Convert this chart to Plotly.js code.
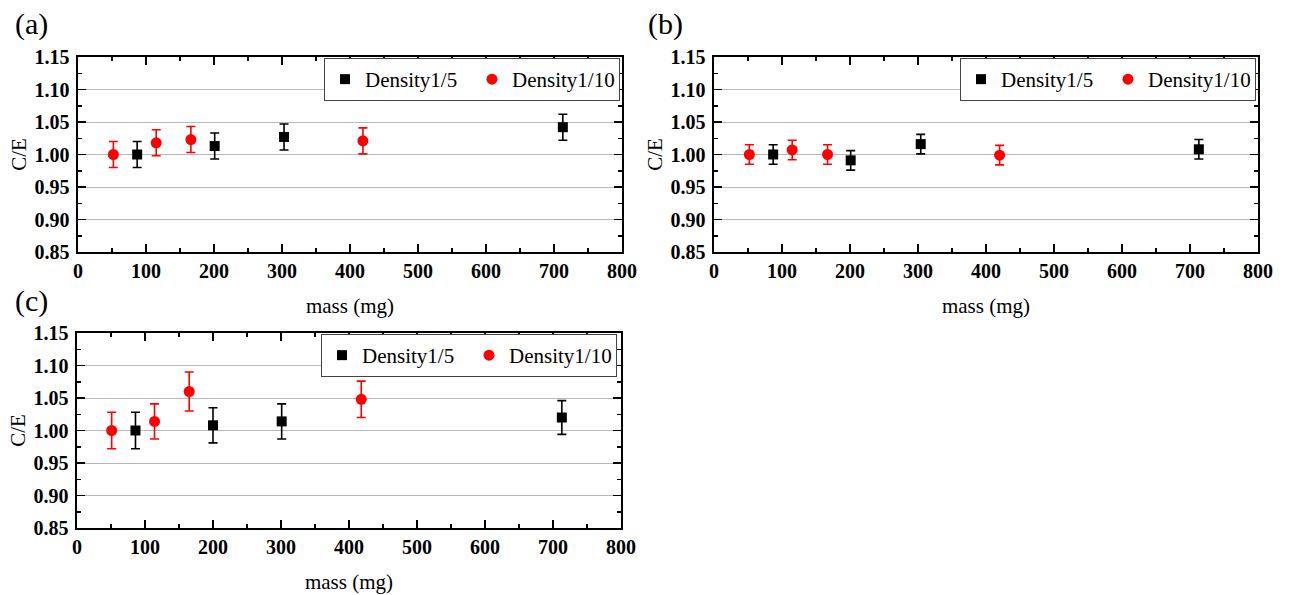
<!DOCTYPE html>
<html>
<head>
<meta charset="utf-8">
<script src="https://cdn.plot.ly/plotly-3.0.1.min.js"></script>
<style>html,body{margin:0;padding:0;background:#fff;}#chart{width:1289px;height:595px;}</style>
</head>
<body>
<div id="chart"></div>
<script>
// ---- Data ----
const seriesNames = ["Density1/5", "Density1/10"];
const panelLabels = ["(a)", "(b)", "(c)"];
const xTitle = "mass (mg)";
const yTitle = "C/E";

// Panel (a)
const a_mass5  = [87, 201, 303, 713];
const a_ce5    = [1.000, 1.013, 1.027, 1.042];
const a_err5   = [0.020, 0.020, 0.020, 0.020];
const a_mass10 = [52, 115, 166, 419];
const a_ce10   = [1.000, 1.018, 1.023, 1.021];
const a_err10  = [0.020, 0.020, 0.020, 0.020];

// Panel (b)
const b_mass5  = [87, 201, 304, 713];
const b_ce5    = [1.000, 0.991, 1.016, 1.008];
const b_err5   = [0.015, 0.015, 0.015, 0.015];
const b_mass10 = [52, 115, 167, 420];
const b_ce10   = [1.000, 1.007, 1.000, 0.999];
const b_err10  = [0.015, 0.015, 0.015, 0.015];

// Panel (c)
const c_mass5  = [86, 200, 301, 713];
const c_ce5    = [1.000, 1.008, 1.014, 1.020];
const c_err5   = [0.028, 0.027, 0.027, 0.026];
const c_mass10 = [51, 114, 165, 418];
const c_ce10   = [1.000, 1.014, 1.060, 1.048];
const c_err10  = [0.028, 0.027, 0.030, 0.028];

// ---- Styling ----
const W = 1289, H = 595;
const serif = "Liberation Serif";
const BLACK = "#000000", RED = "#ff0000";

function mkTraces(m5, c5, e5, m10, c10, e10, xa, ya, lg) {
  return [
    {x: m5, y: c5, type: "scatter", mode: "markers", name: seriesNames[0],
     xaxis: xa, yaxis: ya, legend: lg,
     marker: {symbol: "square", size: 10, color: BLACK},
     error_y: {type: "data", array: e5, visible: true, color: BLACK, thickness: 1.6, width: 4.5}},
    {x: m10, y: c10, type: "scatter", mode: "markers", name: seriesNames[1],
     xaxis: xa, yaxis: ya, legend: lg,
     marker: {symbol: "circle", size: 11, color: RED},
     error_y: {type: "data", array: e10, visible: true, color: RED, thickness: 1.6, width: 4.5}}
  ];
}

const traces = [
  ...mkTraces(a_mass5, a_ce5, a_err5, a_mass10, a_ce10, a_err10, "x", "y", "legend"),
  ...mkTraces(b_mass5, b_ce5, b_err5, b_mass10, b_ce10, b_err10, "x2", "y2", "legend2"),
  ...mkTraces(c_mass5, c_ce5, c_err5, c_mass10, c_ce10, c_err10, "x3", "y3", "legend3")
];

function px(x) { return x / W; }
function py(y) { return 1 - y / H; }

function xAxis(l, r, anchor) {
  return {
    domain: [px(l), px(r)], anchor: anchor, range: [0, 800], dtick: 100, tick0: 0,
    ticks: "inside", ticklen: 8, tickwidth: 1.5, tickcolor: BLACK,
    minor: {dtick: 50, ticks: "inside", ticklen: 4, tickwidth: 1.5, tickcolor: BLACK, showgrid: false},
    showline: true, linewidth: 1.6, linecolor: BLACK, mirror: "ticks",
    showgrid: false, zeroline: false, fixedrange: true,
    tickfont: {family: serif, size: 20, color: BLACK, weight: "bold"},
    title: {text: xTitle, font: {family: serif, size: 21, color: BLACK}, standoff: 18}
  };
}
function yAxis(t, b, anchor) {
  return {
    domain: [py(b), py(t)], anchor: anchor, range: [0.85, 1.15], dtick: 0.05, tick0: 0.85,
    tickformat: ".2f",
    ticks: "inside", ticklen: 8, tickwidth: 1.5, tickcolor: BLACK,
    minor: {dtick: 0.025, ticks: "inside", ticklen: 4, tickwidth: 1.5, tickcolor: BLACK, showgrid: false},
    showline: true, linewidth: 1.6, linecolor: BLACK, mirror: "ticks",
    showgrid: true, gridcolor: "#b8b8b8", gridwidth: 1, zeroline: false, fixedrange: true,
    ticklabelstandoff: 3,
    tickfont: {family: serif, size: 20, color: BLACK, weight: "bold"},
    title: {text: yTitle, font: {family: serif, size: 21, color: BLACK}, standoff: 2}
  };
}
function legendAt(right, top) {
  return {
    x: px(right), xanchor: "right", y: py(top), yanchor: "top",
    orientation: "h", bgcolor: "#ffffff", bordercolor: "#444444", borderwidth: 1,
    font: {family: serif, size: 21, color: BLACK},
    entrywidth: 102, entrywidthmode: "pixels", itemclick: false, itemdoubleclick: false,
    tracegroupgap: 0
  };
}

function panelLabel(text, x, y) {
  return {text: text, x: px(x), y: py(y), xref: "paper", yref: "paper",
          xanchor: "left", yanchor: "middle", showarrow: false,
          font: {family: serif, size: 30, color: BLACK}};
}

const layout = {
  width: W, height: H,
  margin: {l: 0, r: 0, t: 0, b: 0},
  paper_bgcolor: "#ffffff", plot_bgcolor: "#ffffff",
  showlegend: true,
  xaxis: xAxis(78, 622, "y"),
  yaxis: yAxis(57, 252, "x"),
  xaxis2: xAxis(714, 1258, "y2"),
  yaxis2: yAxis(57, 252, "x2"),
  xaxis3: xAxis(77, 621, "y3"),
  yaxis3: yAxis(333, 528, "x3"),
  legend: legendAt(620, 58),
  legend2: legendAt(1256, 58),
  legend3: legendAt(617, 334),
  annotations: [
    panelLabel(panelLabels[0], 13, 24),
    panelLabel(panelLabels[1], 646, 24),
    panelLabel(panelLabels[2], 13, 301)
  ]
};

Plotly.newPlot("chart", traces, layout, {displayModeBar: false, staticPlot: true});
</script>
</body>
</html>
